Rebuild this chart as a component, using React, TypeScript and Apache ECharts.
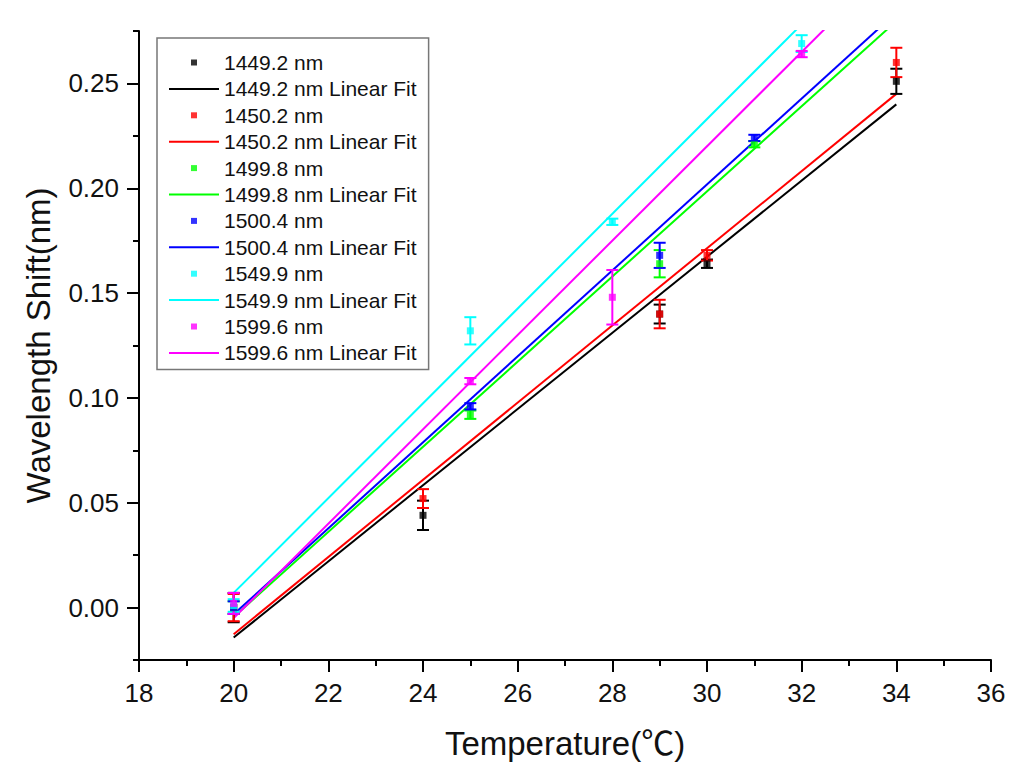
import React, { useEffect, useRef } from 'react'
import * as echarts from 'echarts'

// temperatures (℃) at which each pair of wavelengths was measured
const tempsA = [20, 24, 29, 30, 34] // 1449.2 / 1450.2
const tempsB = [20, 25, 29, 31] // 1499.8 / 1500.4
const tempsC = [20, 25, 28, 32] // 1549.9 / 1599.6

const shift14492 = [0, 0.044, 0.140, 0.164, 0.251]
const err14492 = [0.007, 0.007, 0.0045, 0.002, 0.006]
const shift14502 = [0, 0.052, 0.140, 0.168, 0.260]
const err14502 = [0.0065, 0.0045, 0.0068, 0.0025, 0.007]
const shift14998 = [0, 0.092, 0.164, 0.221]
const err14998 = [0.003, 0.002, 0.0065, 0.0015]
const shift15004 = [0, 0.096, 0.168, 0.224]
const err15004 = [0.003, 0.0015, 0.006, 0.0015]
const shift15499 = [0.001, 0.132, 0.184, 0.269]
const err15499 = [0.003, 0.0065, 0.0015, 0.004]
const shift15996 = [0.002, 0.108, 0.148, 0.264]
const err15996 = [0.005, 0.0015, 0.013, 0.0015]

// linear fit end points
const fitX = [20, 34]
const fit14492 = [-0.0143, 0.240]
const fit14502 = [-0.0127, 0.245]
const fit14998 = [-0.0045, 0.2797]
const fit15004 = [-0.0032, 0.2838]
const fit15499 = [0.007, 0.3234]
const fit15996 = [-0.005, 0.310]

const yMajor = [0, 0.05, 0.1, 0.15, 0.2, 0.25]

const FONT = '"Liberation Sans", Arial, "Noto Sans CJK SC", sans-serif'
const DOT = 'path://M0,0M14,14M4,4h6v6h-6z'
const DASH = 'path://M0,0h50v2h-50z'

const sets = [
  { name: '1449.2 nm', color: '#000000', x: tempsA, y: shift14492, e: err14492, fit: fit14492 },
  { name: '1450.2 nm', color: '#ff0000', x: tempsA, y: shift14502, e: err14502, fit: fit14502 },
  { name: '1499.8 nm', color: '#00ff00', x: tempsB, y: shift14998, e: err14998, fit: fit14998 },
  { name: '1500.4 nm', color: '#0000ff', x: tempsB, y: shift15004, e: err15004, fit: fit15004 },
  { name: '1549.9 nm', color: '#00ffff', x: tempsC, y: shift15499, e: err15499, fit: fit15499 },
  { name: '1599.6 nm', color: '#ff00ff', x: tempsC, y: shift15996, e: err15996, fit: fit15996 },
]

export default function App() {
  const chartRef = useRef<HTMLDivElement>(null)

  useEffect(() => {
    document.body.style.margin = '0'
    const chart = echarts.init(chartRef.current, null, { renderer: 'svg' })

    const series: any[] = []
    const legendData: any[] = []
    sets.forEach((s) => {
      series.push({
        name: s.name + ' Linear Fit',
        type: 'line',
        xAxisIndex: 0,
        yAxisIndex: 0,
        data: fitX.map((x, i) => [x, s.fit[i]]),
        symbol: 'none',
        clip: true,
        lineStyle: { color: s.color, width: 2 },
        itemStyle: { color: s.color },
        z: 2,
      })
      series.push({
        name: s.name + ' err',
        type: 'custom',
        xAxisIndex: 0,
        yAxisIndex: 0,
        data: s.x.map((x, i) => [x, s.y[i], s.e[i]]),
        encode: { x: 0, y: 1 },
        z: 3,
        renderItem: (params: any, api: any) => {
          const x = api.value(0)
          const y = api.value(1)
          const e = api.value(2)
          const top = api.coord([x, y + e])
          const bot = api.coord([x, y - e])
          const hw = 6
          const style = { stroke: s.color, lineWidth: 2 }
          return {
            type: 'group',
            children: [
              { type: 'line', shape: { x1: top[0], y1: top[1], x2: bot[0], y2: bot[1] }, style },
              { type: 'line', shape: { x1: top[0] - hw, y1: top[1], x2: top[0] + hw, y2: top[1] }, style },
              { type: 'line', shape: { x1: bot[0] - hw, y1: bot[1], x2: bot[0] + hw, y2: bot[1] }, style },
            ],
          }
        },
      })
      series.push({
        name: s.name,
        type: 'scatter',
        xAxisIndex: 0,
        yAxisIndex: 0,
        data: s.x.map((x, i) => [x, s.y[i]]),
        symbol: 'rect',
        symbolSize: 7,
        itemStyle: { color: s.color },
        z: 4,
      })
      legendData.push({ name: s.name, icon: DOT })
      legendData.push({ name: s.name + ' Linear Fit', icon: DASH })
    })

    chart.setOption({
      animation: false,
      backgroundColor: '#ffffff',
      textStyle: { fontFamily: FONT },
      grid: { left: 139, right: 33, top: 31, bottom: 111, containLabel: false, outerBoundsMode: 'none' },
      legend: {
        data: legendData,
        orient: 'vertical',
        left: 157,
        top: 38,
        padding: [14, 12, 6, 12],
        itemWidth: 50,
        itemHeight: 14,
        itemGap: 5.4,
        selectedMode: false,
        borderColor: '#777777',
        borderWidth: 1.5,
        backgroundColor: '#ffffff',
        textStyle: { fontSize: 21, color: '#111111', fontFamily: FONT },
      },
      xAxis: {
        type: 'value',
        min: 18,
        max: 36,
        interval: 2,
        name: 'Temperature(℃)',
        nameLocation: 'middle',
        nameGap: 67,
        nameTextStyle: { fontSize: 33, color: '#111111', fontFamily: FONT },
        axisLine: { show: true, onZero: false, lineStyle: { color: '#000000', width: 2 } },
        axisTick: { show: true, length: 12, lineStyle: { color: '#000000', width: 2 } },
        minorTick: { show: true, splitNumber: 2, length: 6, lineStyle: { color: '#000000', width: 2 } },
        axisLabel: { fontSize: 26, color: '#111111', margin: 20, fontFamily: FONT },
        splitLine: { show: false },
      },
      yAxis: [
        {
          type: 'value',
          min: -0.025,
          max: 0.275,
          position: 'left',
          name: 'Wavelength Shift(nm)',
          nameLocation: 'middle',
          nameGap: 84,
          nameTextStyle: { fontSize: 33, color: '#111111', fontFamily: FONT },
          axisLine: { show: true, onZero: false, lineStyle: { color: '#000000', width: 2 } },
          axisTick: { show: true, customValues: yMajor, length: 12, lineStyle: { color: '#000000', width: 2 } },
          axisLabel: {
            customValues: yMajor,
            fontSize: 26,
            color: '#111111',
            margin: 20,
            fontFamily: FONT,
            formatter: (v: number) => v.toFixed(2),
          },
          splitLine: { show: false },
        },
        {
          type: 'value',
          min: -0.025,
          max: 0.275,
          interval: 0.025,
          position: 'left',
          offset: 0,
          axisLine: { show: false },
          axisTick: { show: true, length: 6, lineStyle: { color: '#000000', width: 2 } },
          axisLabel: { show: false },
          splitLine: { show: false },
        },
      ],
      series,
    })
    return () => chart.dispose()
  }, [])

  return <div ref={chartRef} style={{ width: 1024, height: 771 }} />
}
